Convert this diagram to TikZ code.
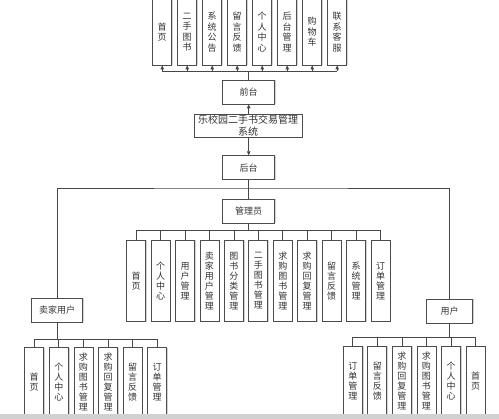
\documentclass[tikz,border=0pt]{standalone}
\usepackage{fontspec}
\newfontfamily\cjk{Noto Sans CJK SC}
\usetikzlibrary{arrows.meta,shadows}
\begin{document}
\begin{tikzpicture}[x=1pt,y=-1pt,
  line/.style={draw=black!72, line width=0.8pt},
  box/.style={draw=black!70, line width=0.8pt, fill=white, inner sep=0pt, align=center,
    font=\cjk\fontsize{9}{10}\selectfont, text=black!80,
    drop shadow={shadow xshift=1.2pt, shadow yshift=0pt, opacity=0.35}},
  hbox/.style={box, minimum height=24pt},
  vbox/.style={box, minimum width=19pt},
  arr/.style={line, -{Triangle[length=4pt,width=3.5pt]}}
]
\useasboundingbox (0,0) rectangle (499,419);
\fill[white] (0,0) rectangle (499,419);

% front-end row
\foreach \t [count=\i from 0] in {{首\\页},{二\\手\\图\\书},{系\\统\\公\\告},{留\\言\\反\\馈},{个\\人\\中\\心},{后\\台\\管\\理},{购\\物\\车},{联\\系\\客\\服}}{
  \node[vbox, minimum height=66pt, font=\cjk\fontsize{9}{10.5}\selectfont] (t\i) at ({162.2+25*\i},32) {\t};
}
\node[hbox, minimum width=52pt] (qt) at (248.7,92) {前台};
\coordinate (tb) at (248.7,71);
\draw[line] (qt.north) -- (tb);
\draw[line] (t0.south |- tb) -- (t7.south |- tb);
\foreach \i in {0,...,7} \draw[arr] (t\i.south |- tb) -- (t\i.south);

% system title
\node[box, minimum width=107.4pt, minimum height=23pt, font=\cjk\fontsize{10}{11.5}\selectfont] (sys) at (248.2,125.8) {乐校园二手书交易管理\\系统};
\draw[arr] (sys.north -| qt) -- (qt.south);

% back-end
\node[hbox, minimum width=52pt] (ht) at (248.7,167.7) {后台};
\draw[arr] (sys.south -| ht) -- (ht.north);
\node[hbox, minimum width=52.3pt] (gly) at (248.7,211) {管理员};
\draw[line] (ht.south) -- (gly.north);
\coordinate (mb) at (248.7,188);
\node[hbox, minimum width=51pt] (mj) at (57.2,310.5) {卖家用户};
\node[hbox, minimum width=45.6pt] (yh) at (449.5,311.3) {用户};
\draw[line] (mj.north) |- (mb) -| (yh.north);

% admin children
\foreach \t [count=\i from 0] in {{首\\页},{个\\人\\中\\心},{用\\户\\管\\理},{卖\\家\\用\\户\\管\\理},{图\\书\\分\\类\\管\\理},{二\\手\\图\\书\\管\\理},{求\\购\\图\\书\\管\\理},{求\\购\\回\\复\\管\\理},{留\\言\\反\\馈},{系\\统\\管\\理},{订\\单\\管\\理}}{
  \node[vbox, minimum height=81.7pt] (a\i) at ({136.2+24.43*\i},280.9) {\t};
}
\coordinate (ab) at (248.7,230.7);
\draw[line] (gly.south) -- (ab);
\draw[line] (a0.north |- ab) -- (a10.north |- ab);
\foreach \i in {0,...,10} \draw[line] (a\i.north |- ab) -- (a\i.north);

% seller children
\foreach \t [count=\i from 0] in {{首\\页},{个\\人\\中\\心},{求\\购\\图\\书\\管\\理},{求\\购\\回\\复\\管\\理},{留\\言\\反\\馈},{订\\单\\管\\理}}{
  \node[vbox, minimum height=68.3pt] (s\i) at ({34.2+24.6*\i},381.85) {\t};
}
\coordinate (sb) at (57.2,339.3);
\draw[line] (mj.south) -- (sb);
\draw[line] (s0.north |- sb) -- (s5.north |- sb);
\foreach \i in {0,...,5} \draw[line] (s\i.north |- sb) -- (s\i.north);

% user children
\foreach \t [count=\i from 0] in {{订\\单\\管\\理},{留\\言\\反\\馈},{求\\购\\回\\复\\管\\理},{求\\购\\图\\书\\管\\理},{个\\人\\中\\心},{首\\页}}{
  \node[vbox, minimum height=70pt] (u\i) at ({352.8+24.55*\i},381) {\t};
}
\coordinate (ub) at (449.5,337.3);
\draw[line] (yh.south) -- (ub);
\draw[line] (u0.north |- ub) -- (u5.north |- ub);
\foreach \i in {0,...,5} \draw[line] (u\i.north |- ub) -- (u\i.north);

% bottom band
\fill[black!18] (0,414.5) rectangle (499,419);
\end{tikzpicture}
\end{document}
